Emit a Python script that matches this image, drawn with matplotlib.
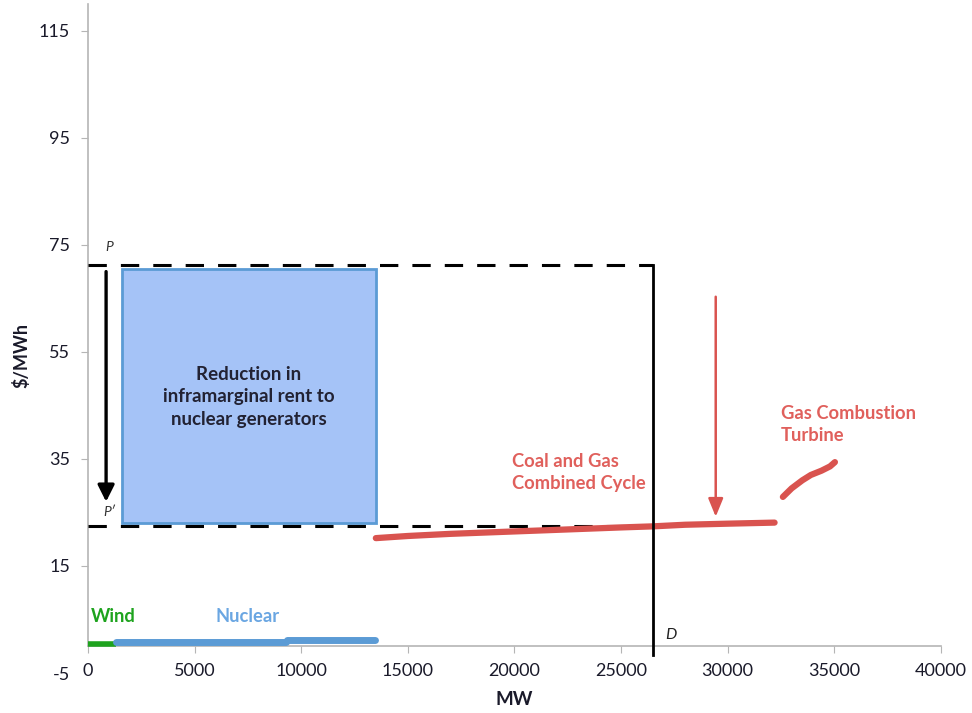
import matplotlib
matplotlib.use("Agg")
import matplotlib.pyplot as plt
from matplotlib.patches import Rectangle

plt.rcParams['font.family'] = ['Lato', 'DejaVu Sans']

# ---- data ----
wind_mw = [0, 1300]
wind_price = [0.4, 0.4]
nuc1_mw = [1300, 9300]
nuc1_price = [0.8, 0.8]
nuc2_mw = [9350, 13450]
nuc2_price = [1.1, 1.1]
cc_mw = [13500, 15000, 17000, 19000, 21000, 23000, 25000, 26500, 28000, 30000, 32200]
cc_price = [20.2, 20.6, 21.0, 21.3, 21.6, 21.9, 22.2, 22.4, 22.7, 22.9, 23.1]
ct_mw = [32590, 33000, 33500, 33900, 34400, 34800, 35030]
ct_price = [27.9, 29.5, 31.0, 32.0, 32.8, 33.6, 34.4]
price_p = 71.2
price_p2 = 22.5
demand_mw = 26500
rent_x = [1580, 13530]
rent_y = [23.0, 70.5]
xticks = [0, 5000, 10000, 15000, 20000, 25000, 30000, 35000, 40000]
yticks = [-5, 15, 35, 55, 75, 95, 115]

red = '#d9534f'
red_txt = '#e0605c'
blue_line = '#5b9bd5'
blue_fill = '#a5c3f7'
green = '#1ea31e'
txt_dark = '#1a1a2a'

fig = plt.figure(figsize=(9.72, 7.13), dpi=100)
ax = fig.add_axes([0.0905, 0.0561, 0.8775, 0.9383])
ax.set_xlim(0, 40000)
ax.set_ylim(-5, 120)

# spines
for s in ['top', 'right']:
    ax.spines[s].set_visible(False)
ax.spines['bottom'].set_position(('data', 0))
ax.spines['bottom'].set_color('#b5b5b5')
ax.spines['left'].set_color('#b5b5b5')
ax.spines['left'].set_bounds(0, 120)
ax.spines['bottom'].set_linewidth(1.2)
ax.spines['left'].set_linewidth(1.2)

ax.set_xticks(xticks)
ax.set_xticklabels([str(v) for v in xticks])
ax.set_yticks(yticks)
ax.set_yticklabels([str(v) for v in yticks])
ax.tick_params(axis='x', direction='out', length=5, color='#b5b5b5', pad=7, labelsize=13,
               labelcolor=txt_dark)
ax.tick_params(axis='y', direction='out', length=5, color='#b5b5b5', pad=8, labelsize=13,
               labelcolor=txt_dark)
ax.yaxis.get_major_ticks()[0].tick1line.set_visible(False)

ax.set_xlabel('MW', fontsize=13.5, fontweight='bold', color=txt_dark)
ax.xaxis.set_label_coords(0.5, -0.027)
ax.set_ylabel('$/MWh', fontsize=13, fontweight='bold', color=txt_dark)
ax.yaxis.set_label_coords(-0.068, 0.475)

# rent rectangle
ax.add_patch(Rectangle((rent_x[0], rent_y[0]), rent_x[1] - rent_x[0], rent_y[1] - rent_y[0],
                       facecolor=blue_fill, edgecolor=blue_line, linewidth=2, zorder=2))

# dashed price lines
dash = (0, (6.0, 4.6))
ax.plot([0, demand_mw], [price_p, price_p], color='black', lw=2.2, linestyle=dash, zorder=3)
ax.plot([0, demand_mw], [price_p2, price_p2], color='black', lw=2.2, linestyle=dash, zorder=3)
# demand line
ax.plot([demand_mw, demand_mw], [price_p, -1.7], color='black', lw=2, zorder=4, clip_on=False)

# supply curves
ax.plot(wind_mw, wind_price, color=green, lw=4, solid_capstyle='butt', zorder=4)
ax.plot(nuc1_mw, nuc1_price, color=blue_line, lw=5, solid_capstyle='round', zorder=4)
ax.plot(nuc2_mw, nuc2_price, color=blue_line, lw=5, solid_capstyle='round', zorder=4)
ax.plot(cc_mw, cc_price, color=red, lw=4.5, solid_capstyle='round', zorder=3)
ax.plot(ct_mw, ct_price, color=red, lw=4.5, solid_capstyle='round', zorder=3)

# arrows
ax.annotate('', xy=(850, 27.0), xytext=(850, 70.0),
            arrowprops=dict(arrowstyle='-|>,head_length=1.0,head_width=0.5', color='black', lw=2.4,
                            shrinkA=0, shrinkB=0), zorder=5)
ax.annotate('', xy=(29440, 24.2), xytext=(29440, 65.3),
            arrowprops=dict(arrowstyle='-|>,head_length=1.1,head_width=0.45', color=red, lw=1.8,
                            shrinkA=0, shrinkB=0), zorder=5)

# labels
ax.text(1000, 73.5, 'P', fontsize=10, fontstyle='italic', color='#333333', ha='center', va='bottom')
ax.text(1000, 24.0, 'P\u2032', fontsize=10, fontstyle='italic', color='#333333', ha='center', va='bottom')
ax.text(27050, 0.8, 'D', fontsize=11.5, fontstyle='italic', color='#222222', ha='left', va='bottom')
ax.text(7550, 46.6, 'Reduction in\ninframarginal rent to\nnuclear generators', fontsize=13.5,
        fontweight='bold', color='#222233', ha='center', va='center', linespacing=1.4, zorder=6)
ax.text(19900, 32.4, 'Coal and Gas\nCombined Cycle', fontsize=13.2, fontweight='bold', color=red_txt,
        ha='left', va='center', linespacing=1.35)
ax.text(32500, 41.5, 'Gas Combustion\nTurbine', fontsize=13.2, fontweight='bold', color=red_txt,
        ha='left', va='center', linespacing=1.35)
ax.text(150, 5.5, 'Wind', fontsize=13.2, fontweight='bold', color=green, ha='left', va='center')
ax.text(7500, 5.5, 'Nuclear', fontsize=13.2, fontweight='bold', color='#6aa6e2', ha='center', va='center')

fig.savefig('out.png', dpi=100)
